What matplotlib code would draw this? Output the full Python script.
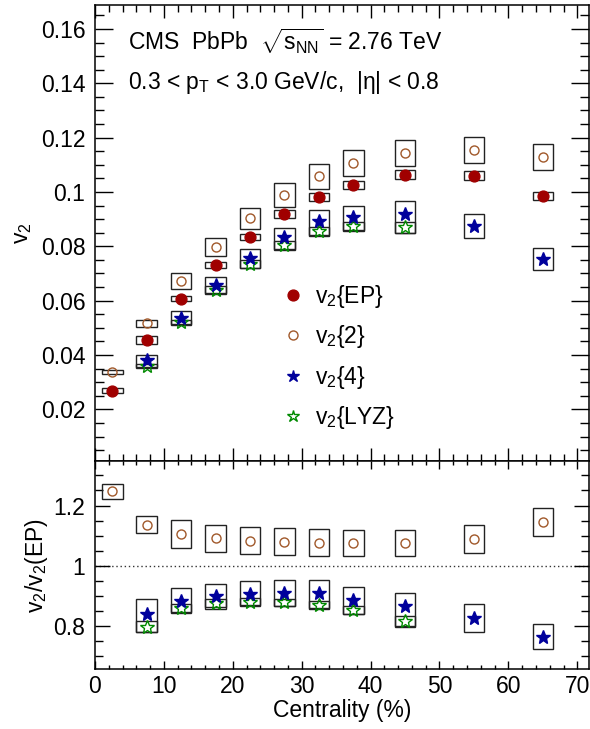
import matplotlib
matplotlib.use("Agg")
import matplotlib.pyplot as plt
from matplotlib.ticker import MultipleLocator, FuncFormatter
from matplotlib.lines import Line2D

# ---------------- data ----------------
cent = [2.5, 7.5, 12.5, 17.5, 22.5, 27.5, 32.5, 37.5, 45, 55, 65]
cent4 = [7.5, 12.5, 17.5, 22.5, 27.5, 32.5, 37.5, 45, 55, 65]
cent_lyz = [7.5, 12.5, 17.5, 22.5, 27.5, 32.5, 37.5, 45]

v2_ep = [0.0269, 0.0455, 0.0607, 0.0731, 0.0834, 0.0918, 0.0982, 0.1026, 0.1063, 0.1060, 0.0985]
v2_ep_sys = [0.0010, 0.0015, 0.0010, 0.0011, 0.0012, 0.0014, 0.0015, 0.0016, 0.0017, 0.0016, 0.0015]
v2_2 = [0.0337, 0.0516, 0.0672, 0.0798, 0.0903, 0.0989, 0.1057, 0.1106, 0.1143, 0.1155, 0.1129]
v2_2_sys = [0.0008, 0.0012, 0.0029, 0.0034, 0.0039, 0.0043, 0.0046, 0.0047, 0.0049, 0.0049, 0.0048]
v2_4 = [0.0381, 0.0535, 0.0656, 0.0758, 0.0835, 0.0894, 0.0909, 0.0918, 0.0875, 0.0752]
v2_4_sys_lo = [0.0025, 0.0022, 0.0030, 0.0037, 0.0047, 0.0057, 0.0052, 0.0070, 0.0045, 0.0040]
v2_4_sys_hi = [0.0020, 0.0027, 0.0030, 0.0032, 0.0034, 0.0039, 0.0039, 0.0047, 0.0045, 0.0040]
v2_lyz = [0.0360, 0.0520, 0.0641, 0.0735, 0.0804, 0.0855, 0.0875, 0.0870]
v2_lyz_sys = [0.0007, 0.0010, 0.0013, 0.0013, 0.0015, 0.0015, 0.0016, 0.0020]

r_2 = [1.247, 1.136, 1.105, 1.092, 1.083, 1.080, 1.077, 1.075, 1.075, 1.089, 1.145]
r_2_sys = [0.025, 0.028, 0.046, 0.045, 0.045, 0.045, 0.044, 0.044, 0.044, 0.045, 0.047]
r_4 = [0.840, 0.884, 0.900, 0.907, 0.909, 0.911, 0.887, 0.865, 0.826, 0.764]
r_4_sys_lo = [0.060, 0.041, 0.044, 0.042, 0.044, 0.055, 0.047, 0.066, 0.047, 0.041]
r_4_sys_hi = [0.048, 0.042, 0.039, 0.041, 0.043, 0.041, 0.041, 0.044, 0.047, 0.044]
r_lyz = [0.798, 0.860, 0.876, 0.881, 0.878, 0.871, 0.854, 0.815]
r_lyz_sys = [0.017, 0.012, 0.014, 0.012, 0.011, 0.013, 0.013, 0.019]

labels = [r"$v_2\{EP\}$", r"$v_2\{2\}$", r"$v_2\{4\}$", r"$v_2\{LYZ\}$"]

# ---------------- style ----------------
plt.rcParams["font.family"] = ["Liberation Sans", "DejaVu Sans"]
plt.rcParams["mathtext.fontset"] = "custom"
plt.rcParams["mathtext.rm"] = "Liberation Sans"
plt.rcParams["mathtext.it"] = "Liberation Sans:italic"
plt.rcParams["mathtext.default"] = "regular"

C_EP = "#a00000"
C_2 = "#a0582a"
C_4 = "#00009c"
C_LYZ = "#008a00"
BOX_W = 3.0
FS = 16.5

fig = plt.figure(figsize=(5.9, 7.29), dpi=100)
L, R = 95 / 590, 589 / 590
y_mid = 1 - 461 / 729
ax1 = fig.add_axes([L, y_mid, R - L, (1 - 5 / 729) - y_mid])
ax2 = fig.add_axes([L, 1 - 669.3 / 729, R - L, y_mid - (1 - 669.3 / 729)])


def boxes(ax, x, y, lo, hi):
    bottoms = [a - b for a, b in zip(y, lo)]
    heights = [b + c for b, c in zip(lo, hi)]
    ax.bar(x, heights, bottom=bottoms, width=BOX_W, fill=False,
           edgecolor="#222222", linewidth=1.0, zorder=2)


# top panel
boxes(ax1, cent, v2_2, v2_2_sys, v2_2_sys)
boxes(ax1, cent, v2_ep, v2_ep_sys, v2_ep_sys)
boxes(ax1, cent4, v2_4, v2_4_sys_lo, v2_4_sys_hi)
boxes(ax1, cent_lyz, v2_lyz, v2_lyz_sys, v2_lyz_sys)

ax1.plot(cent, v2_ep, "o", color=C_EP, ms=7.8, zorder=5, ls="none")
ax1.plot(cent, v2_2, "o", mfc="none", mec=C_2, mew=1.0, ms=6.5, zorder=5, ls="none")
ax1.plot(cent_lyz, v2_lyz, "*", mfc="none", mec=C_LYZ, mew=1.0, ms=10, zorder=5, ls="none")
ax1.plot(cent4, v2_4, "*", color=C_4, ms=10, zorder=6, ls="none")

# bottom panel
ax2.axhline(1.0, ls=(0, (1, 2)), color="#333333", lw=1.0, zorder=1)
boxes(ax2, cent, r_2, r_2_sys, r_2_sys)
boxes(ax2, cent4, r_4, r_4_sys_lo, r_4_sys_hi)
boxes(ax2, cent_lyz, r_lyz, r_lyz_sys, r_lyz_sys)
ax2.plot(cent, r_2, "o", mfc="none", mec=C_2, mew=1.0, ms=6.5, zorder=5, ls="none")
ax2.plot(cent_lyz, r_lyz, "*", mfc="none", mec=C_LYZ, mew=1.0, ms=10, zorder=5, ls="none")
ax2.plot(cent4, r_4, "*", color=C_4, ms=10, zorder=6, ls="none")

# axes ranges & ticks
for ax in (ax1, ax2):
    ax.set_xlim(0, 71.7)
    ax.xaxis.set_major_locator(MultipleLocator(10))
    ax.xaxis.set_minor_locator(MultipleLocator(2))
    ax.tick_params(which="both", direction="in", top=True, right=True,
                   labelsize=FS, width=1.0)
    for s in ax.spines.values():
        s.set_linewidth(1.1)
    ax.yaxis.set_major_formatter(FuncFormatter(lambda v, p: "%g" % round(v, 4)))

ax1.set_ylim(0.001, 0.1688)
ax1.yaxis.set_major_locator(MultipleLocator(0.02))
ax1.yaxis.set_minor_locator(MultipleLocator(0.005))
ax1.tick_params(axis="y", which="major", length=13, pad=7)
ax1.tick_params(axis="y", which="minor", length=6.5)
ax1.tick_params(axis="x", which="major", length=9.5, labelbottom=False)
ax1.tick_params(axis="x", which="minor", length=5)

ax2.set_ylim(0.656, 1.348)
ax2.yaxis.set_major_locator(MultipleLocator(0.2))
ax2.yaxis.set_minor_locator(MultipleLocator(0.05))
ax2.tick_params(axis="y", which="major", length=11, pad=7)
ax2.tick_params(axis="y", which="minor", length=6)
ax2.tick_params(axis="x", which="major", length=5.5, pad=4)
ax2.tick_params(axis="x", which="minor", length=3)
ax2.xaxis.set_major_formatter(FuncFormatter(lambda v, p: "%d" % v))

# labels
fig.text(22 / 590, 1 - 233 / 729, r"$v_2$", rotation=90, ha="center", va="center", fontsize=FS)
fig.text(37 / 590, 1 - 565 / 729, r"$v_2/v_2(EP)$", rotation=90, ha="center", va="center", fontsize=FS)
fig.text(342 / 590, 1 - 711 / 729, "Centrality (%)", ha="center", va="center", fontsize=FS)

ax1.text((128 - 95) / 494, (461 - 41) / 456, r"CMS  PbPb  $\sqrt{s_{NN}}$ = 2.76 TeV",
         transform=ax1.transAxes, ha="left", va="center", fontsize=FS)
ax1.text((128 - 95) / 494, (461 - 83) / 456, r"0.3 < $p_T$ < 3.0 GeV/c,  |η| < 0.8",
         transform=ax1.transAxes, ha="left", va="center", fontsize=FS)

# legend
handles = [
    Line2D([], [], ls="none", marker="o", color=C_EP, ms=7.8),
    Line2D([], [], ls="none", marker="o", mfc="none", mec=C_2, mew=1.0, ms=6.5),
    Line2D([], [], ls="none", marker="*", color=C_4, ms=9),
    Line2D([], [], ls="none", marker="*", mfc="none", mec=C_LYZ, mew=1.0, ms=9),
]
ax1.legend(handles, labels, loc="upper left", bbox_to_anchor=((282 - 95) / 494, (461 - 283) / 456),
           frameon=False, fontsize=FS, handlelength=1.0, handletextpad=0.45,
           labelspacing=0.58, borderpad=0, borderaxespad=0)

fig.savefig("out.png", dpi=100)
